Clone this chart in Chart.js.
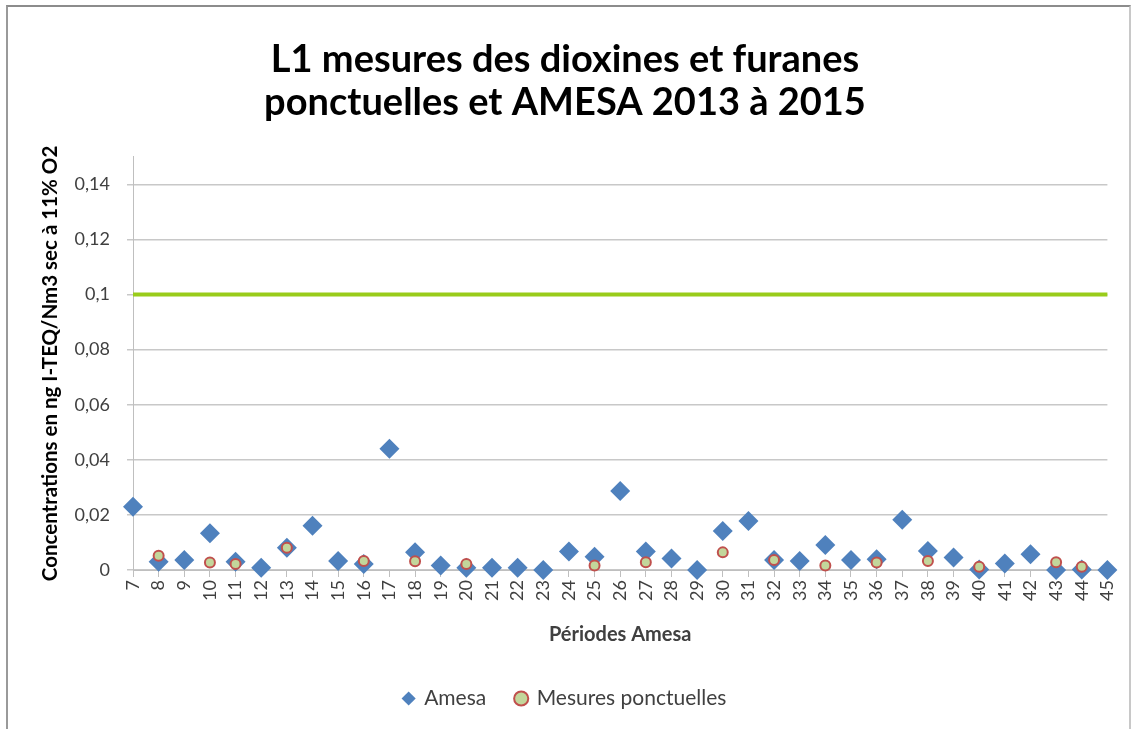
<!DOCTYPE html>
<html>
<head>
<meta charset="utf-8">
<script src="https://cdn.jsdelivr.net/npm/chart.js@4/dist/chart.umd.min.js"></script>
<style>
  html, body { margin: 0; padding: 0; background: #fff; }
  #frame {
    position: absolute; left: 6px; top: 5px; width: 1121px; height: 740px;
    border-top: 2px solid #8c8c8c; border-left: 2px solid #9a9a9a; border-right: 2px solid #c8c8c8;
  }
  #wrap { position: absolute; left: 0; top: 0; width: 1132px; height: 729px; }
</style>
</head>
<body>
<div id="frame"></div>
<div id="wrap"><canvas id="chart" width="1132" height="729"></canvas></div>
<script>
const periods = ['7', '8', '9', '10', '11', '12', '13', '14', '15', '16', '17', '18', '19', '20', '21', '22', '23', '24', '25', '26',
  '27', '28', '29', '30', '31', '32', '33', '34', '35', '36', '37', '38', '39', '40', '41', '42', '43', '44', '45'];

const amesa = [0.023, 0.003, 0.0036, 0.0133, 0.003, 0.0008, 0.0081, 0.0161, 0.0033, 0.0022, 0.044, 0.0064, 0.0016, 0.0008,
  0.0008, 0.0008, 0.0, 0.0067, 0.0048, 0.0287, 0.0067, 0.0042, 0.0, 0.0142, 0.0178, 0.0036, 0.0033, 0.0091, 0.0036,
  0.0039, 0.0182, 0.0069, 0.0045, 0.0002, 0.0024, 0.0057, 0.0, 0.0002, 0.0];

const ponctuelles = [null, 0.0052, null, 0.0027, 0.0022, null, 0.0081, null, null, 0.0033, null, 0.0032, null, 0.0022,
  null, null, null, null, 0.0016, null, 0.0028, null, null, 0.0064, null, 0.0036, null, 0.0016, null,
  0.0027, null, 0.0033, null, 0.0012, null, null, 0.0028, 0.0012, null];

const limit = periods.map(() => 0.1);

const yTicks = [0, 0.02, 0.04, 0.06, 0.08, 0.1, 0.12, 0.14];

const FONT = 'Lato, "Open Sans", sans-serif';
const TXT = '#404040';

new Chart(document.getElementById('chart'), {
  type: 'line',
  data: {
    labels: periods,
    datasets: [
      {
        label: 'Amesa',
        data: amesa,
        showLine: false,
        clip: false,
        pointStyle: 'rectRot',
        pointRadius: 10,
        pointHoverRadius: 10,
        backgroundColor: '#4f81bd',
        borderColor: '#4f81bd',
        pointBorderWidth: 0,
        order: 1,
      },
      {
        label: 'Mesures ponctuelles',
        data: ponctuelles,
        showLine: false,
        clip: false,
        pointStyle: 'circle',
        pointRadius: 5,
        pointHoverRadius: 5,
        backgroundColor: '#c3d69b',
        borderColor: '#c0504d',
        pointBorderWidth: 2,
        order: 0,
      },
      {
        label: 'Limite',
        data: limit,
        borderColor: '#99cc1a',
        borderWidth: 4,
        pointRadius: 0,
        fill: false,
        order: 2,
      },
    ],
  },
  options: {
    responsive: false,
    animation: false,
    layout: { padding: { left: 21, right: 23, top: 0, bottom: 10 } },
    plugins: {
      title: {
        display: true,
        text: ['L1 mesures des dioxines et furanes', 'ponctuelles et AMESA 2013 à 2015'],
        font: { family: FONT, size: 38, weight: 'bold', lineHeight: 1.13 },
        color: '#000',
        padding: { top: 38, bottom: 33 },
      },
      legend: {
        position: 'bottom',
        labels: {
          usePointStyle: true,
          boxWidth: 10,
          boxHeight: 10,
          padding: 30,
          color: TXT,
          font: { family: FONT, size: 21 },
          filter: (item) => item.datasetIndex !== 2,
          sort: (a, b) => a.datasetIndex - b.datasetIndex,
        },
      },
      tooltip: { enabled: false },
    },
    scales: {
      x: {
        type: 'category',
        offset: false,
        afterFit: (scale) => { scale.height = 88; },
        grid: { drawOnChartArea: false, tickLength: 7, color: '#bfbfbf' },
        border: { color: '#bfbfbf' },
        ticks: { autoSkip: false, maxRotation: 90, minRotation: 90, color: TXT, font: { family: FONT, size: 18 }, padding: 3 },
        title: {
          display: true,
          text: 'Périodes Amesa',
          color: TXT,
          font: { family: FONT, size: 20, weight: 'bold' },
          padding: { top: 0, bottom: 11 },
        },
      },
      y: {
        min: 0,
        max: 0.15,
        afterFit: (scale) => { scale.width = 112; },
        afterBuildTicks: (scale) => { scale.ticks = yTicks.map((v) => ({ value: v })); },
        grid: { color: '#c8c8c8', tickLength: 6, lineWidth: 1.5 },
        border: { color: '#bfbfbf' },
        ticks: {
          color: TXT,
          font: { family: FONT, size: 18 },
          padding: 17,
          callback: (v) => String(+v.toFixed(2)).replace('.', ','),
        },
        title: {
          display: true,
          text: 'Concentrations en ng I-TEQ/Nm3 sec à 11% O2',
          color: '#000',
          font: { family: FONT, size: 20.5, weight: 'bold' },
          padding: { top: 17, bottom: 0 },
        },
      },
    },
  },
});
</script>
</body>
</html>
